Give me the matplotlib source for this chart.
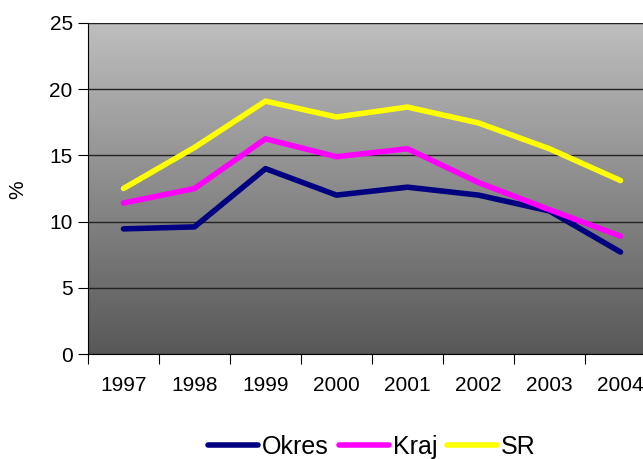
import matplotlib.pyplot as plt
import numpy as np
from matplotlib.colors import LinearSegmentedColormap

plt.rcParams['font.family'] = ['Liberation Sans', 'DejaVu Sans']

years = ['1997', '1998', '1999', '2000', '2001', '2002', '2003', '2004']
okres = [9.45, 9.6, 14.0, 12.0, 12.6, 12.0, 10.8, 7.7]
kraj = [11.4, 12.5, 16.25, 14.9, 15.5, 12.95, 10.9, 8.9]
sr = [12.5, 15.6, 19.1, 17.9, 18.65, 17.45, 15.5, 13.1]

fig = plt.figure(figsize=(6.43, 4.59), dpi=100)
ax = fig.add_axes([88 / 643, 1 - 354 / 459, 568 / 643, 331 / 459])

# sivy prechod pozadia
cmap = LinearSegmentedColormap.from_list('siva', ['#585858', '#BEBEBE'])
grad = np.linspace(0, 1, 256).reshape(-1, 1)
ax.imshow(grad, extent=(-0.5, 7.5, 0, 25), aspect='auto', cmap=cmap,
          origin='lower', zorder=0)

x = np.arange(len(years))
ax.plot(x, okres, color='#000080', lw=4, solid_capstyle='round', label='Okres', zorder=3)
ax.plot(x, kraj, color='#FF00FF', lw=4, solid_capstyle='round', label='Kraj', zorder=3)
ax.plot(x, sr, color='#FFFF00', lw=4, solid_capstyle='round', label='SR', zorder=3)

ax.set_xlim(-0.5, 7.5)
ax.set_ylim(0, 25)
ax.set_yticks([0, 5, 10, 15, 20, 25])
ax.yaxis.grid(True, color='#222222', lw=1)
ax.set_axisbelow(False)
ax.set_xticks(np.arange(-0.5, 8, 1))
ax.set_xticklabels([])
ax.set_xticks(x, minor=True)
ax.set_xticklabels(years, minor=True)
ax.tick_params(axis='x', which='minor', length=0, pad=16, labelsize=15)
ax.tick_params(axis='x', which='major', length=7, direction='out', color='black')
ax.tick_params(axis='y', length=7, labelsize=15, pad=4)

ax.spines['top'].set_color('#808080')
ax.spines['right'].set_visible(False)
ax.spines['left'].set_color('black')
ax.spines['bottom'].set_color('black')

fig.text(18 / 643, 1 - 190 / 459, '%', rotation=90, fontsize=15, ha='center', va='center')

fig.legend(loc='center', bbox_to_anchor=(372 / 643, 1 - 447 / 459), ncol=3, frameon=False,
           fontsize=18, handlelength=2.0, handletextpad=0.15, columnspacing=0.4,
           borderaxespad=0)

fig.savefig('out.png', dpi=100)
